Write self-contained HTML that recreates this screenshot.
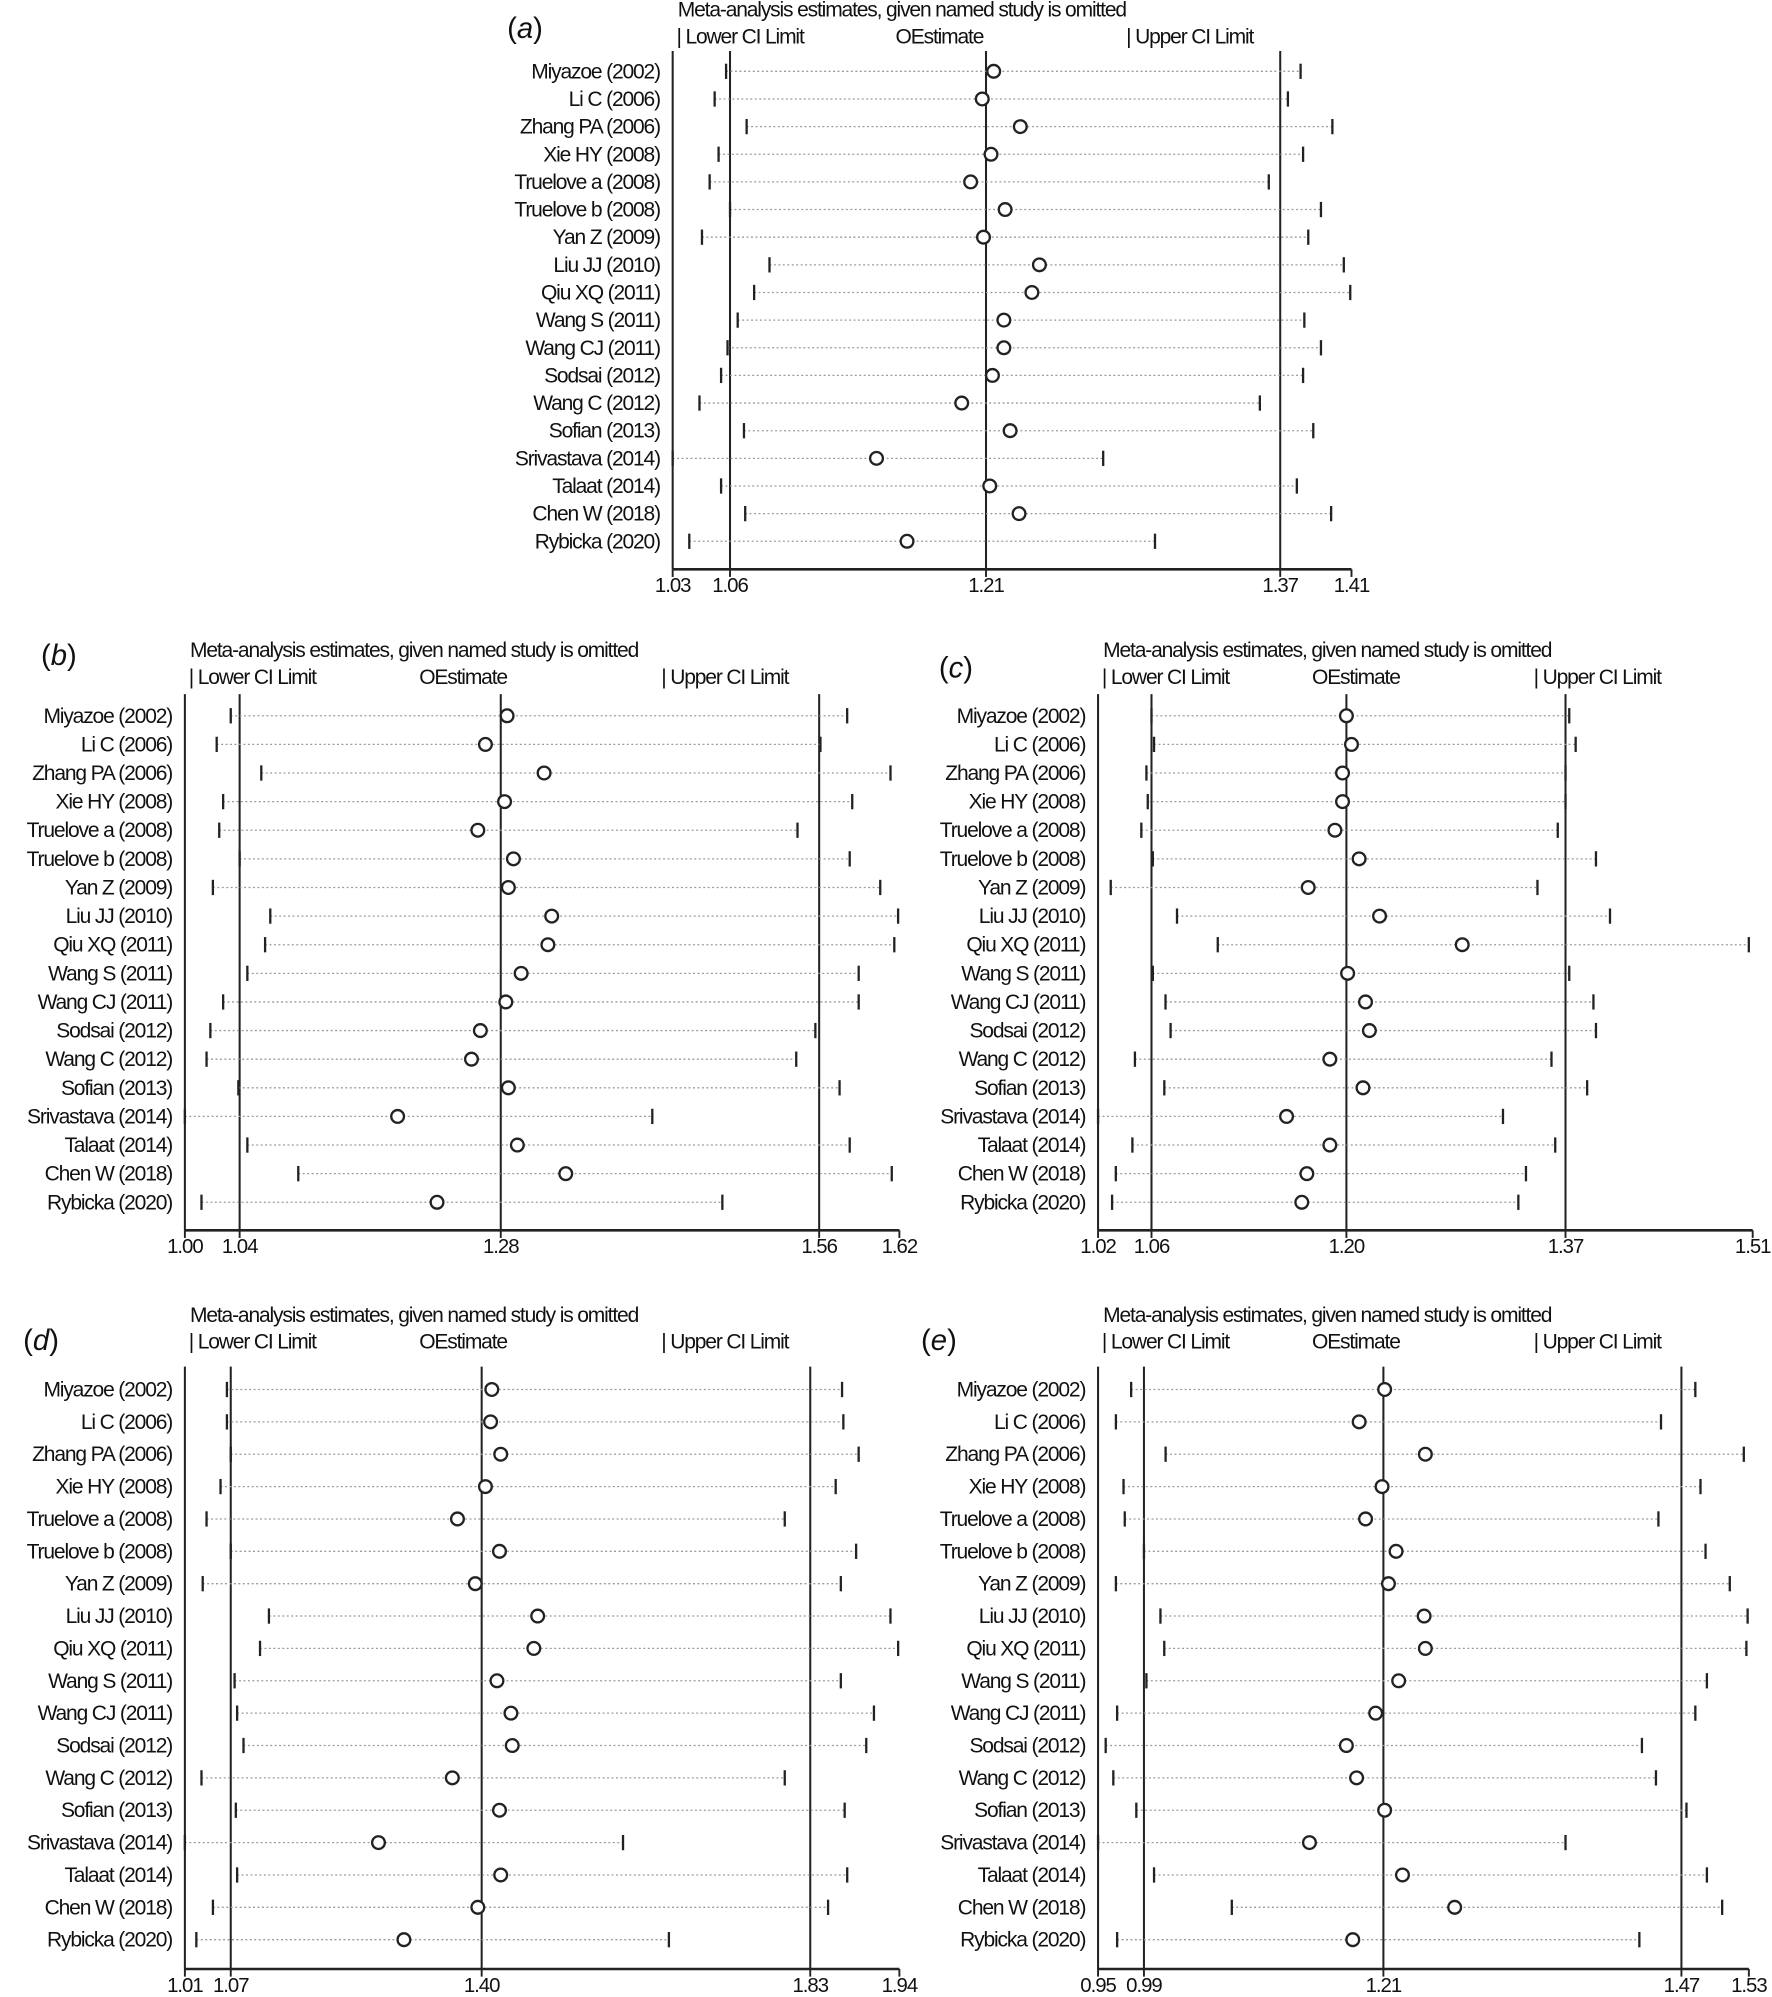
<!DOCTYPE html>
<html><head><meta charset="utf-8"><style>
html,body{margin:0;padding:0;background:#fff}
svg{display:block}
text{font-family:"Liberation Sans",Arial,sans-serif;fill:#111}
</style></head><body>
<svg id="chart" width="1772" height="1997" viewBox="0 0 1391 1568" xmlns="http://www.w3.org/2000/svg"></svg>
<script>
const studies = ["Miyazoe (2002)","Li C (2006)","Zhang PA (2006)","Xie HY (2008)","Truelove a (2008)","Truelove b (2008)","Yan Z (2009)","Liu JJ (2010)","Qiu XQ (2011)","Wang S (2011)","Wang CJ (2011)","Sodsai (2012)","Wang C (2012)","Sofian (2013)","Srivastava (2014)","Talaat (2014)","Chen W (2018)","Rybicka (2020)"];

const aLower = [1.0599,1.0535,1.0714,1.0557,1.0507,1.0621,1.0464,1.0842,1.0756,1.0664,1.0607,1.0571,1.0450,1.0699,1.0300,1.0571,1.0706,1.0393];
const aEst   = [1.2097,1.2033,1.2246,1.2082,1.1968,1.2161,1.2040,1.2353,1.2311,1.2154,1.2154,1.2090,1.1918,1.2189,1.1441,1.2075,1.2239,1.1612];
const aUpper = [1.3815,1.3744,1.3993,1.3829,1.3637,1.3929,1.3858,1.4057,1.4093,1.3836,1.3929,1.3829,1.3587,1.3886,1.2710,1.3794,1.3986,1.3000];
const aPooled = [1.0621,1.2054,1.3701];
const aTickVals = [1.03,1.0621,1.2054,1.3701,1.41];
const aTickLabels = ["1.03","1.06","1.21","1.37","1.41"];

const bLower = [1.0398,1.0276,1.0663,1.0332,1.0298,1.0475,1.0243,1.0741,1.0696,1.0542,1.0332,1.0221,1.0188,1.0464,1.0000,1.0542,1.0984,1.0144];
const bEst   = [1.2796,1.2608,1.3117,1.2774,1.2542,1.2851,1.2807,1.3183,1.3150,1.2918,1.2785,1.2564,1.2487,1.2807,1.1846,1.2885,1.3305,1.2188];
const bUpper = [1.5747,1.5515,1.6123,1.5791,1.5316,1.5769,1.6034,1.6189,1.6156,1.5847,1.5847,1.5471,1.5305,1.5681,1.4056,1.5769,1.6134,1.4664];
const bPooled = [1.0475,1.2741,1.5504];
const bTickVals = [1.00,1.0475,1.2741,1.5504,1.62];
const bTickLabels = ["1.00","1.04","1.28","1.56","1.62"];

const cLower = [1.0600,1.0619,1.0562,1.0572,1.0524,1.0610,1.0295,1.0791,1.1096,1.0610,1.0705,1.0743,1.0476,1.0696,1.0200,1.0457,1.0333,1.0305];
const cEst   = [1.2059,1.2097,1.2030,1.2030,1.1973,1.2154,1.1773,1.2307,1.2926,1.2068,1.2202,1.2231,1.1935,1.2183,1.1611,1.1935,1.1763,1.1725];
const cUpper = [1.3727,1.3775,1.3699,1.3699,1.3641,1.3927,1.3489,1.4032,1.5071,1.3727,1.3908,1.3927,1.3594,1.3861,1.3231,1.3622,1.3403,1.3346];
const cPooled = [1.0600,1.2059,1.3699];
const cTickVals = [1.02,1.0600,1.2059,1.3699,1.51];
const cTickLabels = ["1.02","1.06","1.20","1.37","1.51"];

const dLower = [1.0647,1.0647,1.0697,1.0564,1.0382,1.0697,1.0332,1.1194,1.1078,1.0747,1.0780,1.0863,1.0316,1.0763,1.0100,1.0780,1.0465,1.0249];
const dEst   = [1.4095,1.4079,1.4211,1.4012,1.3648,1.4195,1.3880,1.4692,1.4642,1.4162,1.4344,1.4361,1.3581,1.4195,1.2620,1.4211,1.3913,1.2951];
const dUpper = [1.8654,1.8671,1.8870,1.8571,1.7908,1.8837,1.8638,1.9284,1.9384,1.8638,1.9069,1.8969,1.7908,1.8688,1.5803,1.8721,1.8472,1.6400];
const dPooled = [1.0697,1.3963,1.8240];
const dTickVals = [1.01,1.0697,1.3963,1.8240,1.94];
const dTickLabels = ["1.01","1.07","1.40","1.83","1.94"];

const eLower = [0.9795,0.9659,1.0102,0.9727,0.9738,0.9909,0.9659,1.0056,1.0090,0.9931,0.9670,0.9568,0.9636,0.9841,0.9500,0.9999,1.0692,0.9670];
const eEst   = [1.2054,1.1827,1.2417,1.2031,1.1884,1.2156,1.2088,1.2406,1.2417,1.2179,1.1974,1.1713,1.1804,1.2054,1.1384,1.2213,1.2678,1.1770];
const eUpper = [1.4823,1.4517,1.5255,1.4869,1.4494,1.4914,1.5130,1.5289,1.5278,1.4926,1.4823,1.4347,1.4472,1.4744,1.3666,1.4926,1.5062,1.4324];
const ePooled = [0.9909,1.2043,1.4699];
const eTickVals = [0.95,0.9909,1.2043,1.4699,1.53];
const eTickLabels = ["0.95","0.99","1.21","1.47","1.53"];

const NS = "http://www.w3.org/2000/svg";
const svg = document.getElementById("chart");
function mk(tag, attrs, parent){
  const el = document.createElementNS(NS, tag);
  for (const k in attrs) el.setAttribute(k, attrs[k]);
  (parent||svg).appendChild(el);
  return el;
}
function txt(s, attrs, parent){ const t = mk("text", attrs, parent); t.textContent = s; return t; }

function panel(id, label, lower, est, upper, pooled, tickVals, tickLabels, g){
  const grp = mk("g", {});
  
  
  const x = v => g.x0 + (v - g.d0) / (g.d1 - g.d0) * (g.x1 - g.x0);
  const y = i => g.y0 + i * (g.y1 - g.y0) / (studies.length - 1);

  const pl = txt("(" + label + ")", {x: g.lx, y: g.ly, "font-size": 23}, grp);
  pl.innerHTML = '(<tspan font-style="italic">' + label + '</tspan>)';
  
  

  const tt = txt("Meta-analysis estimates, given named study is omitted", {x: g.x0 + 4, y: g.ty, "font-size": 16.5, "letter-spacing": "-0.9"}, grp);
  
  

  const lg = [["| Lower CI Limit", g.x0 + 3], ["OEstimate", g.x0 + g.le], ["| Upper CI Limit", g.x0 + g.lu]];
  lg.forEach((it, k) => {
    const t = txt(it[0], {x: it[1], y: g.ty + 21, "font-size": 16.5, "letter-spacing": "-0.9"}, grp);
    
    
  });

  const la = mk("line", {x1: g.x0, y1: g.top, x2: g.x0, y2: g.ax, stroke: "#222", "stroke-width": 1.6}, grp);
  
  

  pooled.forEach((v, k) => {
    const l = mk("line", {x1: x(v), y1: g.top, x2: x(v), y2: g.ax, stroke: "#222", "stroke-width": 1.6}, grp);
    
    
  });

  studies.forEach((s, i) => {
    const yy = y(i);
    const lab = txt(s, {x: g.x0 - 10, y: yy + 5.5, "font-size": 16.5, "text-anchor": "end", "letter-spacing": "-0.9"}, grp);
    
    
    const dl = mk("line", {x1: x(lower[i]), y1: yy, x2: x(upper[i]), y2: yy, stroke: "#999", "stroke-width": 1, "stroke-dasharray": "1.5,2"}, grp);
    
    
    const lt = mk("line", {x1: x(lower[i]), y1: yy - 6, x2: x(lower[i]), y2: yy + 6, stroke: "#222", "stroke-width": 1.8}, grp);
    
    
    const ut = mk("line", {x1: x(upper[i]), y1: yy - 6, x2: x(upper[i]), y2: yy + 6, stroke: "#222", "stroke-width": 1.8}, grp);
    
    
    const c = mk("circle", {cx: x(est[i]), cy: yy, r: 5, fill: "#fff", stroke: "#222", "stroke-width": 1.8}, grp);
    
    
  });

  const ax = mk("line", {x1: g.x0, y1: g.ax, x2: g.x1, y2: g.ax, stroke: "#222", "stroke-width": 2}, grp);
  
  
  tickVals.forEach((v, k) => {
    const tk = mk("line", {x1: x(v), y1: g.ax, x2: x(v), y2: g.ax + 6, stroke: "#222", "stroke-width": 1.5}, grp);
    
    
    const tl = txt(tickLabels[k], {x: x(v), y: g.ax + 18, "font-size": 16, "text-anchor": "middle", "letter-spacing": "-0.8"}, grp);
    
    
  });
}

panel("a","a",aLower,aEst,aUpper,aPooled,aTickVals,aTickLabels,{x0:528,x1:1061,d0:1.03,d1:1.41,y0:56,y1:425,top:40,ax:447,ty:13,le:175,lu:356,lx:398,ly:30});
panel("b","b",bLower,bEst,bUpper,bPooled,bTickVals,bTickLabels,{x0:145,x1:706,d0:1.00,d1:1.62,y0:562,y1:944,top:545,ax:966,ty:516,le:184,lu:374,lx:32,ly:522});
panel("c","c",cLower,cEst,cUpper,cPooled,cTickVals,cTickLabels,{x0:862,x1:1376,d0:1.02,d1:1.51,y0:562,y1:944,top:545,ax:966,ty:516,le:168,lu:342,lx:737,ly:532});
panel("d","d",dLower,dEst,dUpper,dPooled,dTickVals,dTickLabels,{x0:145,x1:706,d0:1.01,d1:1.94,y0:1091,y1:1523,top:1073,ax:1546,ty:1038,le:184,lu:374,lx:18,ly:1060});
panel("e","e",eLower,eEst,eUpper,ePooled,eTickVals,eTickLabels,{x0:862,x1:1373,d0:0.95,d1:1.53,y0:1091,y1:1523,top:1073,ax:1546,ty:1038,le:168,lu:342,lx:723,ly:1060});
</script>
</body></html>
